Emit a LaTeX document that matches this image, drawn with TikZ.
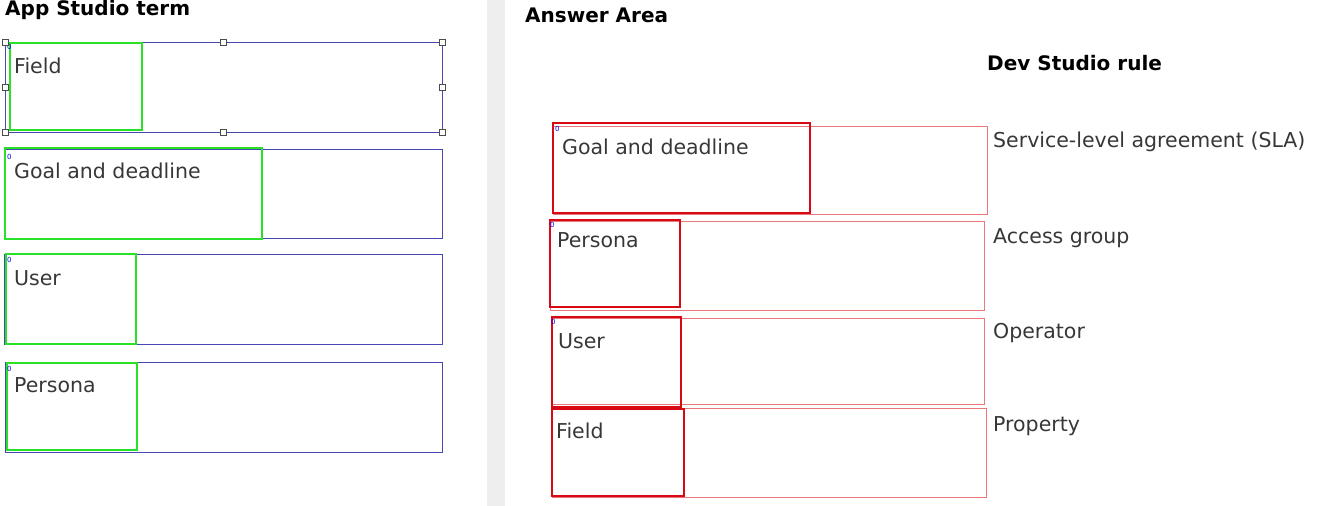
\documentclass[tikz,border=0pt]{standalone}
\usepackage{fontspec}
\setmainfont{DejaVu Sans}
\usepackage{xcolor}
\definecolor{boxblue}{RGB}{72,72,178}
\definecolor{pickgreen}{RGB}{40,225,40}
\definecolor{pickred}{RGB}{215,10,20}
\definecolor{slotred}{RGB}{235,120,120}
\definecolor{txtgrey}{RGB}{55,55,55}
\definecolor{barclr}{RGB}{238,238,238}

\begin{document}
\begin{tikzpicture}[x=1pt,y=-1pt,
    lbl/.style={anchor=base west,inner sep=0pt,text=txtgrey,font=\fontsize{20.5}{24}\selectfont},
    head/.style={anchor=base west,inner sep=0pt,text=black,font=\fontsize{20}{24}\selectfont\bfseries},
    zero/.style={anchor=north west,inner sep=0pt,text=blue,font=\fontsize{7}{7}\selectfont},
    handle/.style={fill=white,draw=black!70,line width=0.8pt},
    slot/.style={draw=boxblue,line width=1pt},
    pick/.style={draw=pickgreen,line width=1.6pt},
    ans/.style={draw=slotred,line width=0.8pt},
    sel/.style={draw=pickred,line width=2pt}]
                \useasboundingbox (0,0) rectangle (1318,506);
                \fill[barclr] (487,0) rectangle (505,506);

                % left: terms
                \node[head] (lhead) at (5,16) {App Studio term};

                \draw[slot] (5,42) rectangle (442,132);
                \draw[pick] (10,43) rectangle (142,130);
                \node[zero] (z1) at (7,44) {0};
                \node[lbl] (tfield) at (14,73) {Field};
                \filldraw[handle] (2,39) rectangle (8,45);
                \filldraw[handle] (220,39) rectangle (226,45);
                \filldraw[handle] (439,39) rectangle (445,45);
                \filldraw[handle] (2,84) rectangle (8,90);
                \filldraw[handle] (439,84) rectangle (445,90);
                \filldraw[handle] (2,129) rectangle (8,135);
                \filldraw[handle] (220,129) rectangle (226,135);
                \filldraw[handle] (439,129) rectangle (445,135);

                \draw[slot] (5,149) rectangle (442,238);
                \draw[pick] (5,148) rectangle (262,239);
                \node[zero] (z2) at (7,154) {0};
                \node[lbl] (tgoal) at (14,178) {Goal and deadline};

                \draw[slot] (4,254) rectangle (442,344);
                \draw[pick] (6,254) rectangle (136,344);
                \node[zero] (z3) at (7,257) {0};
                \node[lbl] (tuser) at (14,285) {User};

                \draw[slot] (5,362) rectangle (442,452);
                \draw[pick] (7,363) rectangle (137,450);
                \node[zero] (z4) at (7,366) {0};
                \node[lbl] (tpersona) at (14,392) {Persona};

                % right: answer area
                \node[head] (rhead) at (525,22) {Answer Area};
                \node[head] (rulehead) at (987,70) {Dev Studio rule};

                \draw[ans] (553,126) rectangle (987,214);
                \draw[sel] (553,123) rectangle (810,213);
                \node[zero] (z5) at (555,126) {0};
                \node[lbl] (agoal) at (562,154) {Goal and deadline};
                \node[lbl] (rsla) at (993,147) {Service-level agreement (SLA)};

                \draw[ans] (550,221) rectangle (984,310);
                \draw[sel] (550,220) rectangle (680,307);
                \node[zero] (z6) at (550,222) {0};
                \node[lbl] (apersona) at (557,247) {Persona};
                \node[lbl] (raccess) at (993,243) {Access group};

                \draw[ans] (552,318) rectangle (984,404);
                \draw[sel] (552,317) rectangle (681,407);
                \node[zero] (z7) at (551,319) {0};
                \node[lbl] (auser) at (558,348) {User};
                \node[lbl] (roperator) at (993,338) {Operator};

                \draw[ans] (552,408) rectangle (986,497);
                \draw[sel] (552,409) rectangle (684,496);
                \node[lbl] (afield) at (556,438) {Field};
                \node[lbl] (rproperty) at (993,431) {Property};
            \end{tikzpicture}
\end{document}
